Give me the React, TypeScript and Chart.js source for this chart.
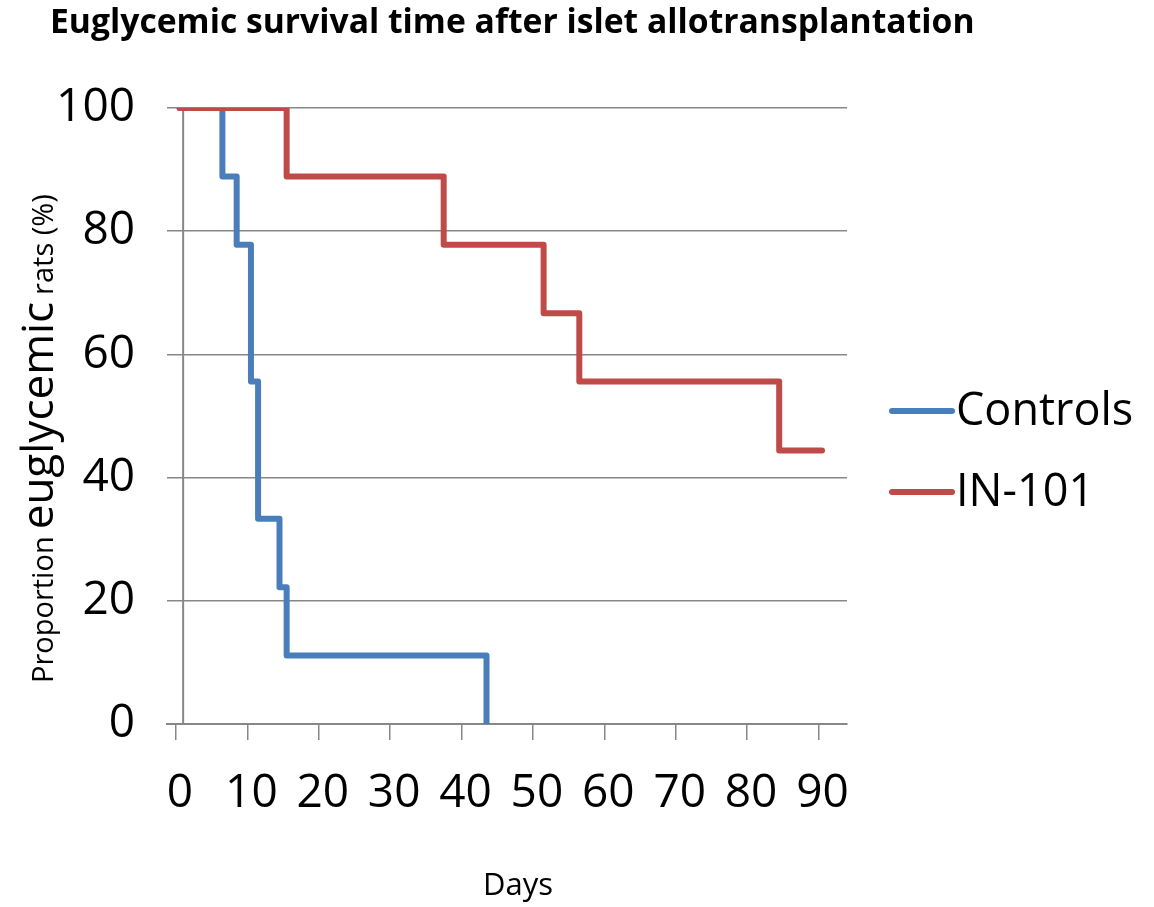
import React, { useEffect, useRef } from 'react';
import { Chart, registerables } from 'chart.js';

Chart.register(...registerables);

const TITLE = 'Euglycemic survival time after islet allotransplantation';
const X_TITLE = 'Days';
// rotated y-axis title, drawn in pieces of different font size
const Y_TITLE_PARTS = [
  { text: 'Proportion', size: 29 },
  { text: 'euglycemic', size: 44 },
  { text: 'rats (%)', size: 29 },
];
const SERIES_NAMES = ['Controls', 'IN-101'];
const SERIES_COLORS = ['#4A7EBB', '#BE4B48'];

const CONTROL_DAYS = [0.5, 6.5, 8.5, 10.5, 11.5, 14.5, 15.5, 43.5];
const CONTROL_PCT = [100, 88.9, 77.8, 55.6, 33.3, 22.2, 11.1, 0];
const IN101_DAYS = [0.5, 15.5, 37.5, 51.5, 56.5, 84.5, 90.5];
const IN101_PCT = [100, 88.9, 77.8, 66.7, 55.6, 44.4, 44.4];

const X_TICKS = [0, 10, 20, 30, 40, 50, 60, 70, 80, 90];
const Y_TICKS = [0, 20, 40, 60, 80, 100];
const X_MIN = -1.26;
const X_MAX = 94;
const Y_MIN = 0;
const Y_MAX = 100;
const Y_AXIS_CROSS_DAY = 1;

const FONT = "'Open Sans', 'Noto Sans', sans-serif";
const GRID = '#878787';

const decor = {
  id: 'decor',
  beforeDraw(chart: any) {
    const ctx = chart.ctx;
    ctx.save();
    ctx.fillStyle = '#ffffff';
    ctx.fillRect(0, 0, chart.width, chart.height);
    ctx.restore();
  },
  beforeDatasetsDraw(chart: any) {
    const ctx = chart.ctx;
    const xs = chart.scales.x;
    const ys = chart.scales.y;
    const px = xs.getPixelForValue(Y_AXIS_CROSS_DAY);
    ctx.save();
    ctx.strokeStyle = GRID;
    ctx.lineWidth = 2;
    ctx.beginPath();
    ctx.moveTo(px, ys.getPixelForValue(Y_MAX));
    ctx.lineTo(px, ys.getPixelForValue(Y_MIN));
    ctx.stroke();
    ctx.restore();
  },
  afterDraw(chart: any) {
    const ctx = chart.ctx;
    ctx.save();
    ctx.fillStyle = '#000';
    // Title
    ctx.font = `bold 100px ${FONT}`;
    const w100 = ctx.measureText(TITLE).width;
    const tSize = (100 * 925) / w100;
    ctx.font = `bold ${tSize}px ${FONT}`;
    ctx.textAlign = 'left';
    ctx.textBaseline = 'alphabetic';
    ctx.fillText(TITLE, 50, 33);

    // X title
    ctx.font = `31px ${FONT}`;
    ctx.textAlign = 'center';
    ctx.fillText(X_TITLE, 518, 895);

    // Y title (rotated, mixed sizes)
    ctx.save();
    ctx.translate(53, 683);
    ctx.rotate(-Math.PI / 2);
    ctx.textAlign = 'left';
    let pos = 0;
    for (const part of Y_TITLE_PARTS) {
      ctx.font = `${part.size}px ${FONT}`;
      ctx.fillText(part.text, pos, 0);
      pos += ctx.measureText(part.text).width + 7;
    }
    ctx.restore();

    // Legend
    const rows = [411, 492];
    SERIES_NAMES.forEach((name, i) => {
      ctx.strokeStyle = SERIES_COLORS[i];
      ctx.lineWidth = 6;
      ctx.lineCap = 'round';
      ctx.beginPath();
      ctx.moveTo(892, rows[i]);
      ctx.lineTo(952, rows[i]);
      ctx.stroke();
      ctx.font = `45px ${FONT}`;
      ctx.textAlign = 'left';
      ctx.textBaseline = 'middle';
      ctx.fillStyle = '#000';
      ctx.fillText(name, 956, rows[i] + 1);
    });
    ctx.restore();
  },
};

export default function App() {
  const ref = useRef<HTMLCanvasElement | null>(null);

  useEffect(() => {
    const canvas = ref.current;
    if (!canvas) return;
    const toPoints = (xs: number[], ys: number[]) => xs.map((x, i) => ({ x, y: ys[i] }));
    const chart = new Chart(canvas, {
      type: 'line',
      data: {
        datasets: [
          {
            label: SERIES_NAMES[0],
            data: toPoints(CONTROL_DAYS, CONTROL_PCT),
            borderColor: SERIES_COLORS[0],
            backgroundColor: SERIES_COLORS[0],
            borderWidth: 6,
            stepped: true,
            pointRadius: 0,
            borderJoinStyle: 'round',
            borderCapStyle: 'round',
            order: 1,
          },
          {
            label: SERIES_NAMES[1],
            data: toPoints(IN101_DAYS, IN101_PCT),
            borderColor: SERIES_COLORS[1],
            backgroundColor: SERIES_COLORS[1],
            borderWidth: 6,
            stepped: true,
            pointRadius: 0,
            borderJoinStyle: 'round',
            borderCapStyle: 'round',
            order: 0,
          },
        ],
      },
      options: {
        animation: false,
        responsive: false,
        maintainAspectRatio: false,
        layout: { padding: { top: 108, right: 307, left: 0, bottom: 0 } },
        plugins: {
          legend: { display: false },
          title: { display: false },
          tooltip: { enabled: false },
        },
        scales: {
          x: {
            type: 'linear',
            min: X_MIN,
            max: X_MAX,
            afterFit: (s: any) => {
              s.height = 183;
            },
            afterBuildTicks: (s: any) => {
              s.ticks = X_TICKS.map((v) => ({ value: v }));
            },
            grid: {
              display: true,
              drawOnChartArea: false,
              drawTicks: true,
              tickLength: 16,
              color: GRID,
              lineWidth: 1.5,
            },
            border: { display: true, color: GRID, width: 2 },
            ticks: {
              font: { family: FONT, size: 46 },
              color: '#000',
              padding: 26,
              labelOffset: 4,
              maxRotation: 0,
              autoSkip: false,
            },
          },
          y: {
            type: 'linear',
            min: Y_MIN,
            max: Y_MAX,
            afterFit: (s: any) => {
              s.width = 167;
            },
            afterBuildTicks: (s: any) => {
              s.ticks = Y_TICKS.map((v) => ({ value: v }));
            },
            grid: {
              display: true,
              drawOnChartArea: true,
              drawTicks: false,
              color: GRID,
              lineWidth: 1.5,
            },
            border: { display: false },
            ticks: {
              font: { family: FONT, size: 46 },
              color: '#000',
              padding: 32,
            },
          },
        },
      },
      plugins: [decor],
    });
    return () => chart.destroy();
  }, []);

  return (
    <div style={{ position: 'absolute', left: 0, top: 0, width: 1154, height: 907, background: '#fff' }}>
      <canvas ref={ref} width={1154} height={907} style={{ width: 1154, height: 907, display: 'block' }} />
    </div>
  );
}
